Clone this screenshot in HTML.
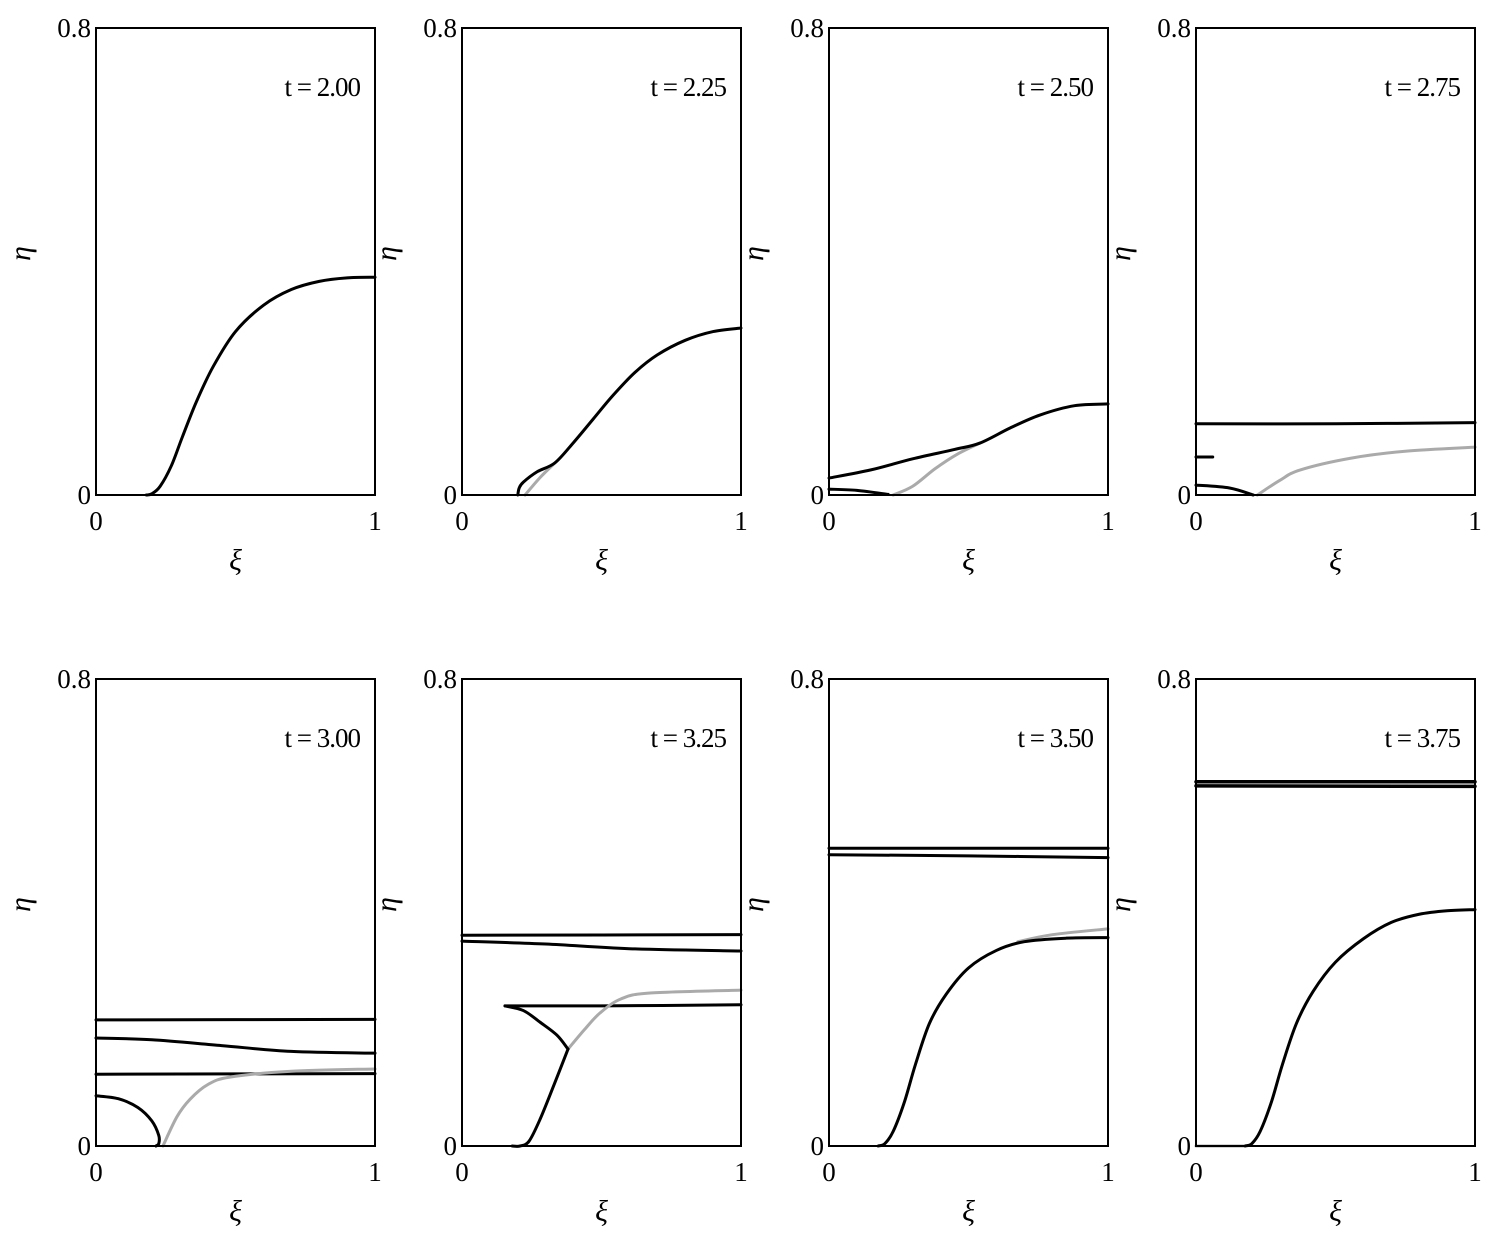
<!DOCTYPE html>
<html><head><meta charset="utf-8"><style>
body{margin:0;background:#fff}
svg{display:block;font-family:"Liberation Serif",serif}
</style></head><body>
<svg id="fig" width="1495" height="1243" viewBox="0 0 1495 1243"></svg>
<script>
const panelTimes = ["2.00","2.25","2.50","2.75","3.00","3.25","3.50","3.75"];
const panelLeft = [96,462,829,1196];
const panelTop = [28,679];
const PW = 279, PH = 467, YMAX = 0.8;
const seriesP1 = [["#000",3,[[0.18,0],[0.2,0.002],[0.23,0.015],[0.27,0.05],[0.31,0.1],[0.36,0.16],[0.42,0.22],[0.5,0.28],[0.6,0.325],[0.7,0.352],[0.8,0.366],[0.9,0.372],[1,0.373]]]];
const seriesP2 = [
 ["#aaa",3,[[0.226,0],[0.28,0.03],[0.333,0.055]]],
 ["#000",3,[[0.2,0],[0.205,0.012],[0.22,0.022],[0.27,0.04],[0.333,0.055],[0.4,0.09],[0.47,0.13],[0.54,0.17],[0.62,0.21],[0.7,0.24],[0.8,0.265],[0.9,0.28],[1,0.286]]]];
const seriesP3 = [
 ["#aaa",3,[[0.23,0],[0.3,0.015],[0.38,0.045],[0.46,0.07],[0.541,0.089]]],
 ["#000",3,[[0,0.029],[0.15,0.043],[0.3,0.062],[0.45,0.078],[0.541,0.089],[0.65,0.115],[0.756,0.137],[0.88,0.153],[1,0.156]]],
 ["#000",3,[[0,0.01],[0.1,0.008],[0.212,0.001]]]];
const seriesP4 = [
 ["#000",3,[[0,0.122],[0.5,0.122],[1,0.124]]],
 ["#000",3,[[0,0.065],[0.06,0.065]]],
 ["#000",3,[[0,0.017],[0.12,0.012],[0.205,0]]],
 ["#aaa",3,[[0.22,0],[0.3,0.025],[0.374,0.043],[0.554,0.063],[0.75,0.075],[1,0.082]]]];
const seriesP5 = [
 ["#000",3,[[0,0.216],[1,0.217]]],
 ["#000",3,[[0,0.185],[0.2,0.182],[0.45,0.172],[0.7,0.162],[1,0.159]]],
 ["#000",3,[[0,0.123],[1,0.124]]],
 ["#000",3,[[0,0.086],[0.08,0.081],[0.15,0.066],[0.2,0.043],[0.225,0.018],[0.225,0.004],[0.215,0]]],
 ["#aaa",3,[[0.24,0],[0.29,0.05],[0.337,0.08],[0.4,0.105],[0.48,0.118],[0.7,0.128],[1,0.132]]]];
const seriesP6 = [
 ["#000",3,[[0,0.361],[1,0.362]]],
 ["#000",3,[[0,0.351],[0.3,0.346],[0.6,0.338],[1,0.334]]],
 ["#000",3,[[0.154,0.24],[0.5,0.24],[1,0.242]]],
 ["#aaa",3,[[0.38,0.166],[0.44,0.2],[0.495,0.228],[0.57,0.252],[0.674,0.262],[1,0.267]]],
 ["#000",3,[[0.154,0.24],[0.22,0.232],[0.28,0.212],[0.34,0.19],[0.38,0.166]]],
 ["#000",3,[[0.38,0.166],[0.33,0.105],[0.28,0.046],[0.24,0.008],[0.208,0],[0.18,0]]]];
const seriesP7 = [
 ["#000",3,[[0,0.51],[1,0.51]]],
 ["#000",3,[[0,0.499],[0.5,0.497],[1,0.494]]],
 ["#aaa",3,[[0.677,0.35],[0.8,0.362],[1,0.372]]],
 ["#000",3,[[0.176,0],[0.2,0.004],[0.23,0.025],[0.27,0.075],[0.31,0.14],[0.36,0.21],[0.42,0.26],[0.5,0.305],[0.6,0.335],[0.7,0.35],[0.85,0.356],[1,0.357]]]];
const seriesP8 = [
 ["#000",3.5,[[0,0.624],[1,0.624]]],
 ["#000",3.5,[[0,0.617],[1,0.616]]],
 ["#aaa",3,[[0,0],[0.176,0]]],
 ["#000",3,[[0.176,0],[0.2,0.004],[0.23,0.025],[0.27,0.075],[0.31,0.14],[0.36,0.21],[0.42,0.265],[0.5,0.315],[0.6,0.355],[0.7,0.383],[0.8,0.397],[0.9,0.403],[1,0.405]]]];
const allSeries=[seriesP1,seriesP2,seriesP3,seriesP4,seriesP5,seriesP6,seriesP7,seriesP8];
const NS="http://www.w3.org/2000/svg";
const svg=document.getElementById('fig');
function mk(tag,attrs,parent){const e=document.createElementNS(NS,tag);for(const k in attrs)e.setAttribute(k,attrs[k]);parent.appendChild(e);return e;}
function txt(parent,x,y,s,size,anchor,name,extra){const t=mk('text',Object.assign({x:x,y:y,'font-size':size,'text-anchor':anchor||'middle'},extra||{}),parent);t.textContent=s;


return t;}
function smooth(pts){let d='M'+pts[0][0]+','+pts[0][1];
 for(let i=0;i<pts.length-1;i++){const p0=pts[Math.max(i-1,0)],p1=pts[i],p2=pts[i+1],p3=pts[Math.min(i+2,pts.length-1)];
 const c1=[p1[0]+(p2[0]-p0[0])/6,p1[1]+(p2[1]-p0[1])/6],c2=[p2[0]-(p3[0]-p1[0])/6,p2[1]-(p3[1]-p1[1])/6];
 d+=' C'+c1.join(',')+' '+c2.join(',')+' '+p2.join(',');}return d;}
for(let p=0;p<8;p++){
 const L=panelLeft[p%4],T=panelTop[Math.floor(p/4)],B=T+PH;
 const sx=v=>L+v*PW, sy=v=>B-v/YMAX*PH;
 const g=mk('g',{},svg);
 
 
 allSeries[p].forEach((s,i)=>{
  const path=mk('path',{d:smooth(s[2].map(q=>[sx(q[0]),sy(q[1])])),fill:'none',stroke:s[0],'stroke-width':s[1],'stroke-linecap':'round','stroke-linejoin':'round'},g);
  
  
 });
 const fr=mk('rect',{x:L,y:T,width:PW,height:PH,fill:'none',stroke:'#000','stroke-width':2},g);
 
 
 txt(g,L-5,T+9,'0.8',27,'end','y-tick-max');
 txt(g,L-5,B+9,'0',27,'end','y-tick-zero');
 txt(g,L,B+35,'0',27,'middle','x-tick-zero');
 txt(g,L+PW,B+35,'1',27,'middle','x-tick-one');
 txt(g,L+PW/2,B+75,'ξ',30,'middle','x-axis-title',{'font-style':'italic'});
 txt(g,L-66,T+PH/2-8,'η',30,'middle','y-axis-title',{'font-style':'italic',transform:'rotate(-90 '+(L-66)+' '+(T+PH/2-8)+')'});
 txt(g,L+PW-15,T+68,'t = '+panelTimes[p],27,'end','time-label',{'letter-spacing':'-1'});
}
</script>
</body></html>
